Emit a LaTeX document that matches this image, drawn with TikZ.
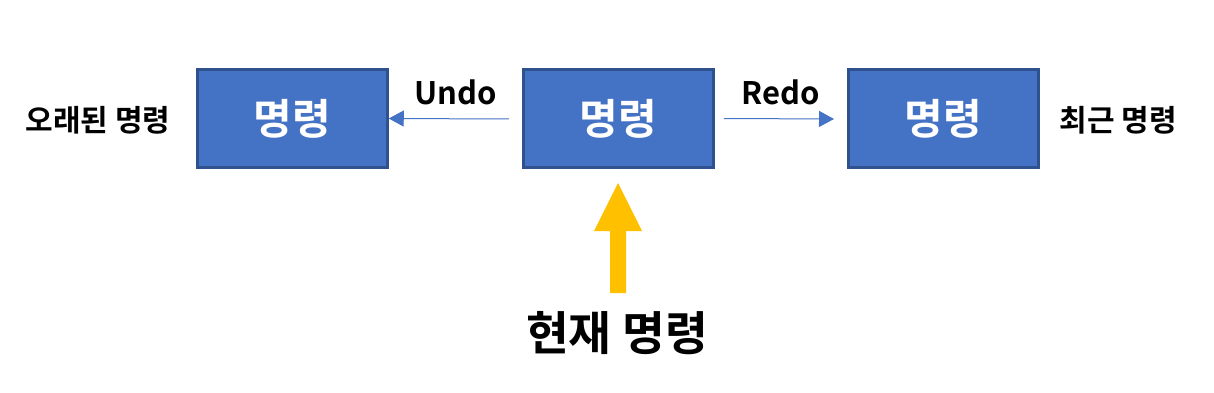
\documentclass[tikz,border=0pt]{standalone}
\usepackage{fontspec}
\setmainfont{Noto Sans CJK KR}[BoldFont={* Bold}]
\usetikzlibrary{arrows.meta}
\definecolor{boxfill}{HTML}{4472C4}
\definecolor{boxline}{HTML}{2F528F}
\definecolor{arrowyellow}{HTML}{FFC000}
\begin{document}
\begin{tikzpicture}[x=1pt,y=-1pt,
  cmdbox/.style={draw=boxline,line width=2.5pt,fill=boxfill,minimum width=190pt,minimum height=98pt,inner sep=0pt,text=white,font=\fontsize{42}{44}\selectfont\bfseries},
  sidelabel/.style={font=\fontsize{30}{32}\selectfont\bfseries,inner sep=0pt},
  oplabel/.style={font=\fontsize{31}{33}\selectfont\bfseries,inner sep=0pt},
  thinarrow/.style={draw=boxfill,line width=1pt,-{Triangle[length=15pt,width=16pt]}}]
\useasboundingbox (0,0) rectangle (1214,393);
\node[cmdbox] (old) at (292.5,118.5) {명령};
\node[cmdbox] (cur) at (618.5,118.5) {명령};
\node[cmdbox] (new) at (943.5,118.5) {명령};
\node[sidelabel] (oldlbl) at (98,120) {오래된 명령};
\node[sidelabel] (newlbl) at (1118,120) {최근 명령};
\coordinate (undostart) at (509,119);
\coordinate (redoend) at (834,119);
\draw[thinarrow] (undostart) -- (old.east);
\draw[thinarrow] (cur.east) ++(9,0) coordinate (redostart) -- (redoend);
\node[oplabel] (undo) at (456,92) {Undo};
\node[oplabel] (redo) at (781,92) {Redo};
\node[font=\fontsize{46.5}{48}\selectfont\bfseries,inner sep=0pt] (curlbl) at (617,333) {현재 명령};
\fill[arrowyellow] (610,293) -- (610,231) -- (594,231) -- (618,183) -- (642,231) -- (626,231) -- (626,293) -- cycle;
\end{tikzpicture}
\end{document}
